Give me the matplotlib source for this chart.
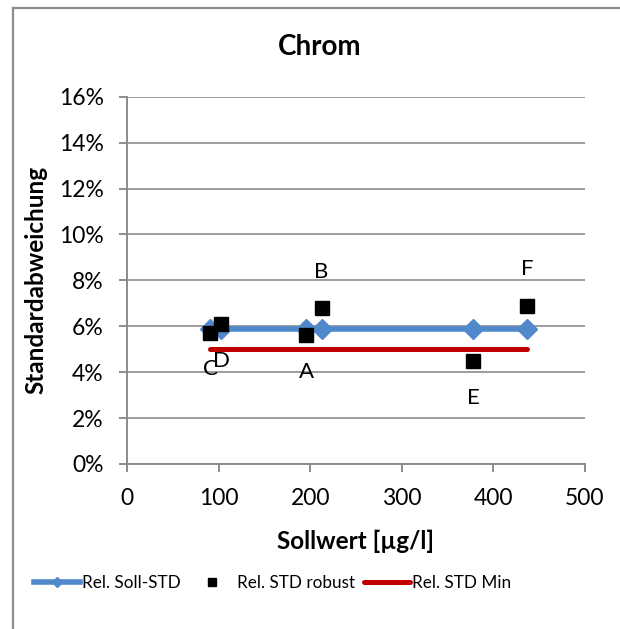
import matplotlib
matplotlib.use("Agg")
import matplotlib.pyplot as plt
from matplotlib.lines import Line2D
from matplotlib.ticker import FuncFormatter, MultipleLocator

plt.rcParams['font.family'] = ['Lato', 'DejaVu Sans']

# Sollwert [µg/l] of the six samples
soll = [90.5, 103, 195.5, 212.5, 378, 437]
# relative standard deviations in %
rel_soll_std = [5.9, 5.9, 5.9, 5.9, 5.9, 5.9]
rel_std_robust = [5.72, 6.10, 5.63, 6.78, 4.49, 6.89]
rel_std_min = [5.0, 5.0, 5.0, 5.0, 5.0, 5.0]
point_labels = ['C', 'D', 'A', 'B', 'E', 'F']
label_side = ['below', 'below', 'below', 'above', 'below', 'above']

W, H = 620, 629
fig = plt.figure(figsize=(W / 100, H / 100), dpi=100)
ax = fig.add_axes([127.3 / W, 1 - 464 / H, (584.5 - 127.3) / W, (464 - 96.7) / H])

grey = '#8c8c8c'
blue_line = '#5088CC'
blue_fill = '#5088CC'
red = '#C00000'

ax.plot(soll, rel_std_min, color=red, lw=3.6, solid_capstyle='round', zorder=3)
ax.plot(soll, rel_soll_std, color=blue_line, lw=4.0, marker='D', ms=10,
        mfc=blue_fill, mec=blue_fill, zorder=4)
ax.plot(soll, rel_std_robust, ls='none', marker='s', ms=9.5, color='black', zorder=5)

for x, y, t, side in zip(soll, rel_std_robust, point_labels, label_side):
    dy = 26.5 if side == 'above' else -26.5
    ax.annotate(t, (x, y), xytext=(0, dy), textcoords='offset points',
                ha='center', va='center', fontsize=16, color='black')

ax.set_xlim(0, 500)
ax.set_ylim(0, 16)
ax.xaxis.set_major_locator(MultipleLocator(100))
ax.yaxis.set_major_locator(MultipleLocator(2))
ax.yaxis.set_major_formatter(FuncFormatter(lambda v, p: f"{v:.0f}%"))
ax.grid(axis='y', color=grey, lw=1.2)
ax.set_axisbelow(True)
for s in ('top', 'right'):
    ax.spines[s].set_visible(False)
for s in ('left', 'bottom'):
    ax.spines[s].set_color(grey)
    ax.spines[s].set_linewidth(1.4)
ax.tick_params(axis='both', direction='out', length=6, width=1.4, color=grey,
               labelsize=16.5, labelcolor='black')
ax.tick_params(axis='y', pad=11)
ax.tick_params(axis='x', pad=11)

ax.set_xlabel('Sollwert [µg/l]', fontsize=17.5, fontweight='bold', va='center')
ax.xaxis.set_label_coords(0.5, (464 - 541) / 367.3)
ax.set_ylabel('Standardabweichung', fontsize=17.5, fontweight='bold', va='center')
ax.yaxis.set_label_coords((36 - 127.3) / 457.2, 0.5)

fig.text(320 / W, 1 - 47 / H, 'Chrom', ha='center', va='center',
         fontsize=20, fontweight='bold')

handles = [
    Line2D([], [], color=blue_line, lw=4.0, marker='D', ms=5.5, mfc=blue_fill, mec=blue_fill),
    Line2D([], [], ls='none', marker='s', ms=5.5, color='black'),
    Line2D([], [], color=red, lw=3.6, solid_capstyle='round'),
]
fig.legend(handles, ['Rel. Soll-STD', 'Rel. STD robust', 'Rel. STD Min'],
           loc='center', bbox_to_anchor=(272.5 / W, 1 - 583 / H), ncol=3,
           frameon=False, fontsize=12.3, handlelength=2.7, handletextpad=0.1,
           columnspacing=0.5)

# chart area border (left and top edges)
fig.add_artist(Line2D([13.3 / W, 13.3 / W], [0, 1 - 8.3 / H], color=grey, lw=1.6,
                      transform=fig.transFigure))
fig.add_artist(Line2D([13.3 / W, 1], [1 - 8.3 / H, 1 - 8.3 / H], color=grey, lw=1.6,
                      transform=fig.transFigure))

fig.savefig('out.png', dpi=100)
